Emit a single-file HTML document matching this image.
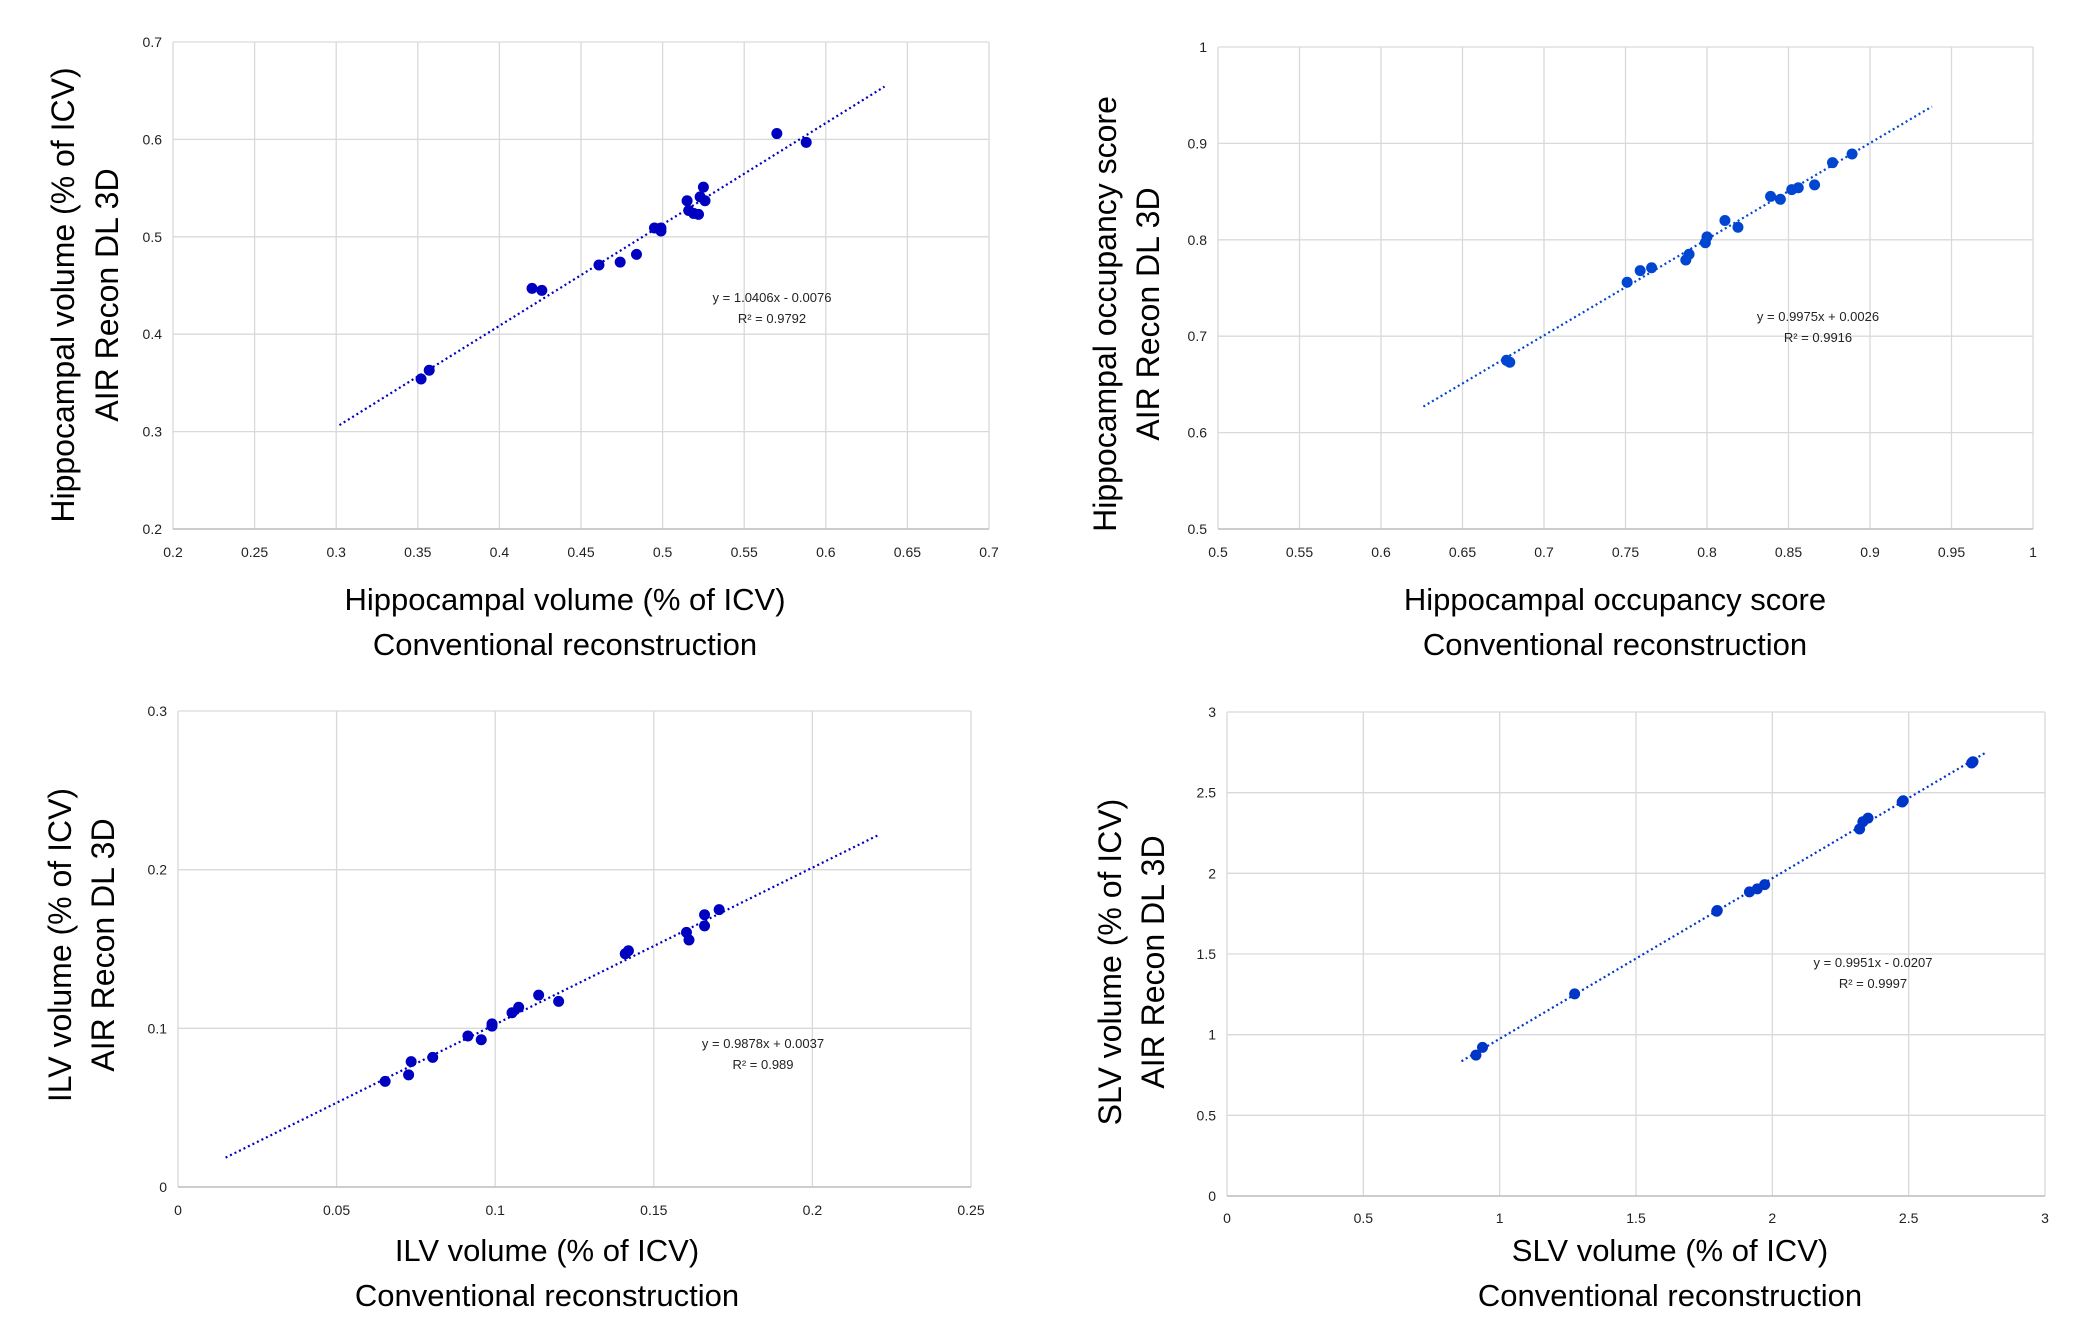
<!DOCTYPE html>
<html><head><meta charset="utf-8"><style>
html,body{margin:0;padding:0;background:#fff;}
svg{display:block;}
text{font-family:"Liberation Sans",sans-serif;}
</style></head><body>
<svg id="fig" width="2081" height="1338" viewBox="0 0 2081 1338" xmlns="http://www.w3.org/2000/svg"></svg>
<script>
// Chart 1: Hippocampal volume
const c1X=[0.570,0.588,0.525,0.515,0.523,0.526,0.516,0.519,0.522,0.495,0.499,0.499,0.484,0.474,0.461,0.420,0.426,0.357,0.352];
const c1Y=[0.606,0.597,0.551,0.537,0.541,0.537,0.527,0.524,0.523,0.509,0.509,0.506,0.482,0.474,0.471,0.447,0.445,0.363,0.354];
const c1XTicks=["0.2","0.25","0.3","0.35","0.4","0.45","0.5","0.55","0.6","0.65","0.7"];
const c1YTicks=["0.2","0.3","0.4","0.5","0.6","0.7"];
const c1Fit=[1.0406,-0.0076,0.302,0.636];
const c1Eq=["y = 1.0406x - 0.0076","R² = 0.9792"];
// Chart 2: Hippocampal occupancy score
const c2X=[0.889,0.877,0.866,0.856,0.852,0.845,0.839,0.819,0.811,0.800,0.799,0.789,0.787,0.766,0.759,0.751,0.679,0.677];
const c2Y=[0.889,0.880,0.857,0.854,0.852,0.842,0.845,0.813,0.820,0.803,0.797,0.785,0.779,0.771,0.768,0.756,0.673,0.675];
const c2XTicks=["0.5","0.55","0.6","0.65","0.7","0.75","0.8","0.85","0.9","0.95","1"];
const c2YTicks=["0.5","0.6","0.7","0.8","0.9","1"];
const c2Fit=[0.9975,0.0026,0.626,0.938];
const c2Eq=["y = 0.9975x + 0.0026","R² = 0.9916"];
// Chart 3: ILV volume
const c3X=[0.1706,0.166,0.166,0.1603,0.1611,0.142,0.141,0.120,0.1137,0.1074,0.1053,0.099,0.099,0.0956,0.0914,0.0803,0.0735,0.0727,0.0653];
const c3Y=[0.1748,0.1716,0.1646,0.1605,0.1557,0.1489,0.147,0.117,0.1209,0.1133,0.1098,0.1014,0.1028,0.0928,0.0952,0.0817,0.0790,0.0707,0.0666];
const c3XTicks=["0","0.05","0.1","0.15","0.2","0.25"];
const c3YTicks=["0","0.1","0.2","0.3"];
const c3Fit=[0.9878,0.0037,0.015,0.221];
const c3Eq=["y = 0.9878x + 0.0037","R² = 0.989"];
// Chart 4: SLV volume
const c4X=[2.736,2.731,2.476,2.48,2.351,2.332,2.320,1.972,1.945,1.916,1.796,1.798,1.275,0.937,0.913];
const c4Y=[2.692,2.684,2.442,2.45,2.342,2.320,2.275,1.930,1.904,1.885,1.765,1.770,1.253,0.921,0.873];
const c4XTicks=["0","0.5","1","1.5","2","2.5","3"];
const c4YTicks=["0","0.5","1","1.5","2","2.5","3"];
const c4Fit=[0.9951,-0.0207,0.86,2.78];
const c4Eq=["y = 0.9951x - 0.0207","R² = 0.9997"];

const NS="http://www.w3.org/2000/svg";
const fig=document.getElementById('fig');
function mk(tag,attrs,parent){const e=document.createElementNS(NS,tag);for(const k in attrs)e.setAttribute(k,attrs[k]);parent.appendChild(e);return e;}

function chart(cfg){
  const g=mk('g',{},fig);
  
  
  const xs=cfg.xt.map(Number), ys=cfg.yt.map(Number);
  const x0=xs[0],x1=xs[xs.length-1],y0=ys[0],y1=ys[ys.length-1];
  const sx=v=>cfg.L+(v-x0)/(x1-x0)*(cfg.R-cfg.L);
  const sy=v=>cfg.B-(v-y0)/(y1-y0)*(cfg.B-cfg.T);
  // grid
  xs.forEach((v,i)=>{
    const l=mk('line',{x1:sx(v),x2:sx(v),y1:cfg.T,y2:cfg.B,stroke:'#d9d9d9','stroke-width':1.3},g);
    
    
    const t=mk('text',{x:sx(v),y:cfg.xly,'font-size':14,'text-anchor':'middle',fill:'#222'},g);
    t.textContent=cfg.xt[i];
    
    
  });
  ys.forEach((v,i)=>{
    const l=mk('line',{x1:cfg.L,x2:cfg.R,y1:sy(v),y2:sy(v),stroke:'#d9d9d9','stroke-width':1.3},g);
    
    
    const t=mk('text',{x:cfg.L-11,y:sy(v)+5,'font-size':14,'text-anchor':'end',fill:'#222'},g);
    t.textContent=cfg.yt[i];
    
    
  });
  const ax=mk('line',{x1:cfg.L,x2:cfg.R,y1:cfg.B,y2:cfg.B,stroke:'#bfbfbf','stroke-width':1.5},g);
  
  
  // trendline
  const f=cfg.fit;
  const tl=mk('line',{x1:sx(f[2]),y1:sy(f[0]*f[2]+f[1]),x2:sx(f[3]),y2:sy(f[0]*f[3]+f[1]),stroke:cfg.col,'stroke-width':2.2,'stroke-dasharray':'2 3'},g);
  
  
  // points
  cfg.x.forEach((v,i)=>{
    const c=mk('circle',{cx:sx(v),cy:sy(cfg.y[i]),r:5.5,fill:cfg.col},g);
    
    
  });
  // equation
  cfg.eq.forEach((s,i)=>{
    const t=mk('text',{x:cfg.ex,y:cfg.ey+i*21,'font-size':13,'text-anchor':'middle',fill:'#222'},g);
    t.textContent=s;
    
    
  });
  // x title
  cfg.xtitle.forEach((s,i)=>{
    const t=mk('text',{x:cfg.xtx,y:cfg.xty[i]+11,'font-size':31,'text-anchor':'middle',fill:'#000'},g);
    t.textContent=s;
    
    
  });
  cfg.ytitle.forEach((s,i)=>{
    const cx=cfg.ytx[i]+11;
    const t=mk('text',{x:cx,y:cfg.yty,'font-size':32,'text-anchor':'middle',fill:'#000',transform:`rotate(-90 ${cx} ${cfg.yty})`},g);
    t.textContent=s;
    
    
  });
}

chart({name:'chart-hippocampal-volume',x:c1X,y:c1Y,xt:c1XTicks,yt:c1YTicks,fit:c1Fit,eq:c1Eq,col:'#0000c0',
  L:173,R:989,T:42,B:529,xly:557,ex:772,ey:302,xtx:565,xty:[599,644],
  xtitle:['Hippocampal volume (% of ICV)','Conventional reconstruction'],
  ytitle:['Hippocampal volume (% of ICV)','AIR Recon DL 3D'],ytx:[63,107],yty:295});
chart({name:'chart-hippocampal-occupancy',x:c2X,y:c2Y,xt:c2XTicks,yt:c2YTicks,fit:c2Fit,eq:c2Eq,col:'#0046d0',
  L:1218,R:2033,T:47,B:529,xly:557,ex:1818,ey:321,xtx:1615,xty:[599,644],
  xtitle:['Hippocampal occupancy score','Conventional reconstruction'],
  ytitle:['Hippocampal occupancy score','AIR Recon DL 3D'],ytx:[1105,1148],yty:314});
chart({name:'chart-ilv-volume',x:c3X,y:c3Y,xt:c3XTicks,yt:c3YTicks,fit:c3Fit,eq:c3Eq,col:'#0000c0',
  L:178,R:971,T:711,B:1187,xly:1215,ex:763,ey:1048,xtx:547,xty:[1250,1295],
  xtitle:['ILV volume (% of ICV)','Conventional reconstruction'],
  ytitle:['ILV volume (% of ICV)','AIR Recon DL 3D'],ytx:[60,103],yty:945});
chart({name:'chart-slv-volume',x:c4X,y:c4Y,xt:c4XTicks,yt:c4YTicks,fit:c4Fit,eq:c4Eq,col:'#0036c8',
  L:1227,R:2045,T:712,B:1196,xly:1223,ex:1873,ey:967,xtx:1670,xty:[1250,1295],
  xtitle:['SLV volume (% of ICV)','Conventional reconstruction'],
  ytitle:['SLV volume (% of ICV)','AIR Recon DL 3D'],ytx:[1110,1153],yty:962});
</script>
</body></html>
